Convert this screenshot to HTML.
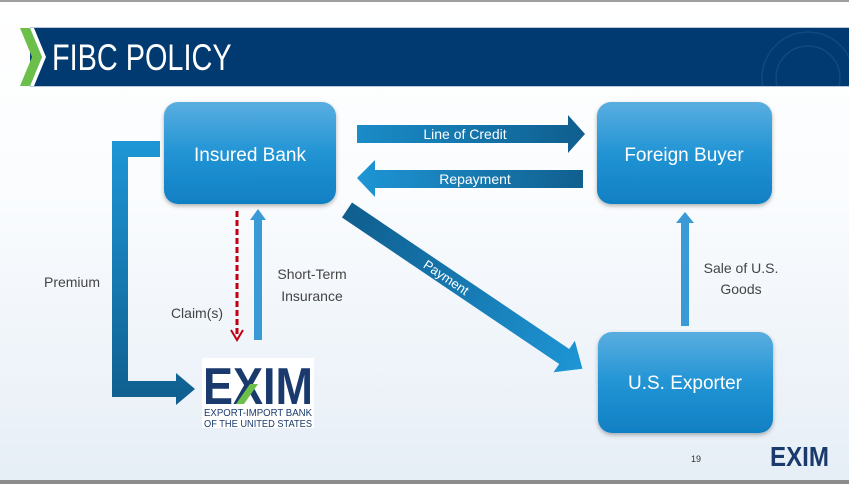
<!DOCTYPE html>
<html><head><meta charset="utf-8"><style>
body{margin:0;width:849px;height:484px;overflow:hidden;font-family:"Liberation Sans",sans-serif}
</style></head><body>
<svg width="849" height="484" viewBox="0 0 849 484" xmlns="http://www.w3.org/2000/svg" style="display:block">
<defs>
<linearGradient id="bg" x1="0" y1="0" x2="0" y2="1"><stop offset="0" stop-color="#ffffff"/><stop offset="0.4" stop-color="#fafcfe"/><stop offset="1" stop-color="#e6eef6"/></linearGradient>
<linearGradient id="box" x1="0" y1="0" x2="0" y2="1"><stop offset="0" stop-color="#5aaee0"/><stop offset="0.5" stop-color="#2294d4"/><stop offset="1" stop-color="#1080c4"/></linearGradient>
<linearGradient id="arr" x1="0" y1="0" x2="1" y2="0"><stop offset="0" stop-color="#1a8cc8"/><stop offset="1" stop-color="#0f5e8e"/></linearGradient>
<linearGradient id="arr2" x1="0" y1="0" x2="1" y2="0"><stop offset="0" stop-color="#1e96d6"/><stop offset="1" stop-color="#105f8e"/></linearGradient>
<linearGradient id="pay" x1="0" y1="0" x2="1" y2="0"><stop offset="0" stop-color="#0f5e8e"/><stop offset="1" stop-color="#1e96d6"/></linearGradient>
<linearGradient id="prem" x1="0" y1="0" x2="0" y2="1"><stop offset="0" stop-color="#1e96d6"/><stop offset="1" stop-color="#0f5e8e"/></linearGradient>
<filter id="sh" x="-10%" y="-10%" width="120%" height="130%"><feDropShadow dx="0" dy="2" stdDeviation="2" flood-color="#000" flood-opacity="0.3"/></filter>
<clipPath id="hc"><rect x="30" y="28" width="819" height="58"/></clipPath>
</defs>
<rect width="849" height="484" fill="url(#bg)"/>
<rect width="849" height="2" fill="#a0a0a0"/>
<rect y="480" width="849" height="4" fill="#8c8c8c"/>
<rect x="30" y="28" width="819" height="58" fill="#003a70"/>
<rect x="30" y="27" width="819" height="1" fill="#b8c8d8"/>
<rect x="30" y="86" width="819" height="1" fill="#b8c8d8"/>
<g clip-path="url(#hc)" fill="none" stroke="#0e4a80" stroke-width="1.5">
<circle cx="808" cy="78" r="46"/>
<circle cx="808" cy="78" r="32"/>
</g>
<polygon points="20,28 30,28 42,57 30,86 20,86 32,57" fill="#6cc04a"/>
<polygon points="30,28 34,28 46,57 34,86 30,86 42,57" fill="#ffffff"/>
<text x="52" y="70" fill="#fff" font-size="37" transform="translate(52 0) scale(0.78 1) translate(-52 0)">FIBC POLICY</text>

<g filter="url(#sh)">
<rect x="164" y="102" width="172" height="102" rx="14" fill="url(#box)"/>
<rect x="597" y="102" width="175" height="102" rx="14" fill="url(#box)"/>
<rect x="598" y="332" width="175" height="101" rx="14" fill="url(#box)"/>
</g>
<g fill="#fff" font-size="19" text-anchor="middle">
<text x="250" y="161">Insured Bank</text>
<text x="684" y="161">Foreign Buyer</text>
<text x="685" y="389">U.S. Exporter</text>
</g>

<polygon points="357,125 568,125 568,115 585,134 568,153 568,143 357,143" fill="url(#arr)"/>
<text x="465" y="139" fill="#fff" font-size="14" text-anchor="middle">Line of Credit</text>
<polygon points="583,170 375,170 375,160 357,178 375,197 375,188 583,188" fill="url(#arr2)"/>
<text x="475" y="184" fill="#fff" font-size="14" text-anchor="middle">Repayment</text>

<g transform="translate(347,210) rotate(34)">
<polygon points="0,-9 262,-9 262,-19 284,0 262,19 262,9 0,9" fill="url(#pay)"/>
<text x="120" y="5" fill="#fff" font-size="13" text-anchor="middle">Payment</text>
</g>

<path d="M160,141 L112,141 L112,397 L176,397 L176,405 L195,389 L176,373 L176,381 L128,381 L128,157 L160,157 Z" fill="url(#prem)"/>
<text x="72" y="287" fill="#444" font-size="14" text-anchor="middle">Premium</text>

<line x1="237" y1="211" x2="237" y2="335" stroke="#c00010" stroke-width="3" stroke-dasharray="6,3"/>
<polyline points="231,330 237,340 243,330" fill="none" stroke="#c00010" stroke-width="2"/>
<text x="197" y="318" fill="#444" font-size="14" text-anchor="middle">Claim(s)</text>

<rect x="254" y="218" width="8" height="122" fill="#3a9ad6"/>
<polygon points="250,220 258,209 266,220" fill="#3a9ad6"/>
<text x="312" y="279" fill="#444" font-size="14" text-anchor="middle">Short-Term</text>
<text x="312" y="301" fill="#444" font-size="14" text-anchor="middle">Insurance</text>

<rect x="681" y="222" width="8" height="104" fill="#3a9ad6"/>
<polygon points="676,223 685,212 694,223" fill="#3a9ad6"/>
<text x="741" y="273" fill="#444" font-size="14" text-anchor="middle">Sale of U.S.</text>
<text x="741" y="294" fill="#444" font-size="14" text-anchor="middle">Goods</text>

<rect x="202" y="358" width="112" height="70" fill="#fff"/>
<text x="203" y="404" fill="#1a3a6e" font-size="52" font-weight="bold" textLength="110" lengthAdjust="spacingAndGlyphs">EXIM</text>
<polygon points="250,384 258,384 244,404 236,404" fill="#6cc04a"/>
<text x="204" y="416" fill="#1a3a6e" font-size="10" textLength="108" lengthAdjust="spacingAndGlyphs">EXPORT-IMPORT BANK</text>
<text x="204" y="427" fill="#1a3a6e" font-size="10" textLength="108" lengthAdjust="spacingAndGlyphs">OF THE UNITED STATES</text>

<text x="696" y="462" fill="#333" font-size="9" text-anchor="middle">19</text>
<text x="770" y="466" fill="#1a3a6e" font-size="28" font-weight="bold" textLength="59" lengthAdjust="spacingAndGlyphs">EXIM</text>
</svg>
</body></html>
